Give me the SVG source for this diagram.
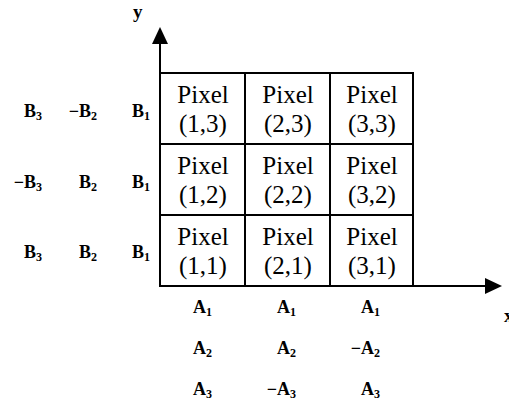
<svg xmlns="http://www.w3.org/2000/svg" width="509" height="402" viewBox="0 0 509 402">
<style>
.px{font-family:"Liberation Serif",serif;font-size:25px;fill:#000;text-anchor:middle}
.lb{font-family:"Liberation Serif",serif;font-size:18px;font-weight:bold;fill:#000;text-anchor:end}
.sb{font-size:12px}
.ax{font-family:"Liberation Serif",serif;font-size:19px;font-weight:bold;fill:#000}
.ln{stroke:#000;stroke-width:2;fill:none}
</style>
<rect width="509" height="402" fill="#fff"/>
<g id="axes">
<line class="ln" x1="160" y1="286" x2="160" y2="42"/>
<polygon points="160,27 152,44 168,44" fill="#000"/>
<line class="ln" x1="160" y1="286" x2="486" y2="286"/>
<polygon points="502,286 485,278 485,294" fill="#000"/>
<text class="ax" x="133" y="18">y</text>
<text class="ax" x="504" y="322">x</text>
</g>
<g id="grid">
<rect class="ln" x="160" y="73" width="253" height="213"/>
<line class="ln" x1="245" y1="73" x2="245" y2="286"/>
<line class="ln" x1="330" y1="73" x2="330" y2="286"/>
<line class="ln" x1="160" y1="144" x2="413" y2="144"/>
<line class="ln" x1="160" y1="215" x2="413" y2="215"/>
</g>
<g id="pixel-1-3"><text class="px" x="203" y="103">Pixel</text><text class="px" x="203" y="132">(1,3)</text></g>
<g id="pixel-2-3"><text class="px" x="288" y="103">Pixel</text><text class="px" x="288" y="132">(2,3)</text></g>
<g id="pixel-3-3"><text class="px" x="372" y="103">Pixel</text><text class="px" x="372" y="132">(3,3)</text></g>
<g id="pixel-1-2"><text class="px" x="203" y="174">Pixel</text><text class="px" x="203" y="203">(1,2)</text></g>
<g id="pixel-2-2"><text class="px" x="288" y="174">Pixel</text><text class="px" x="288" y="203">(2,2)</text></g>
<g id="pixel-3-2"><text class="px" x="372" y="174">Pixel</text><text class="px" x="372" y="203">(3,2)</text></g>
<g id="pixel-1-1"><text class="px" x="203" y="245">Pixel</text><text class="px" x="203" y="274">(1,1)</text></g>
<g id="pixel-2-1"><text class="px" x="288" y="245">Pixel</text><text class="px" x="288" y="274">(2,1)</text></g>
<g id="pixel-3-1"><text class="px" x="372" y="245">Pixel</text><text class="px" x="372" y="274">(3,1)</text></g>
<g id="b-labels">
<text class="lb" x="42" y="117">B<tspan class="sb" dy="3">3</tspan></text>
<text class="lb" x="97" y="117">−B<tspan class="sb" dy="3">2</tspan></text>
<text class="lb" x="150" y="117">B<tspan class="sb" dy="3">1</tspan></text>
<text class="lb" x="42" y="188">−B<tspan class="sb" dy="3">3</tspan></text>
<text class="lb" x="97" y="188">B<tspan class="sb" dy="3">2</tspan></text>
<text class="lb" x="150" y="188">B<tspan class="sb" dy="3">1</tspan></text>
<text class="lb" x="42" y="258">B<tspan class="sb" dy="3">3</tspan></text>
<text class="lb" x="97" y="258">B<tspan class="sb" dy="3">2</tspan></text>
<text class="lb" x="150" y="258">B<tspan class="sb" dy="3">1</tspan></text>
</g>
<g id="a-labels">
<text class="lb" x="212" y="313">A<tspan class="sb" dy="3">1</tspan></text>
<text class="lb" x="296" y="313">A<tspan class="sb" dy="3">1</tspan></text>
<text class="lb" x="380" y="313">A<tspan class="sb" dy="3">1</tspan></text>
<text class="lb" x="212" y="354">A<tspan class="sb" dy="3">2</tspan></text>
<text class="lb" x="296" y="354">A<tspan class="sb" dy="3">2</tspan></text>
<text class="lb" x="380" y="354">−A<tspan class="sb" dy="3">2</tspan></text>
<text class="lb" x="212" y="395">A<tspan class="sb" dy="3">3</tspan></text>
<text class="lb" x="296" y="395">−A<tspan class="sb" dy="3">3</tspan></text>
<text class="lb" x="380" y="395">A<tspan class="sb" dy="3">3</tspan></text>
</g>
</svg>
